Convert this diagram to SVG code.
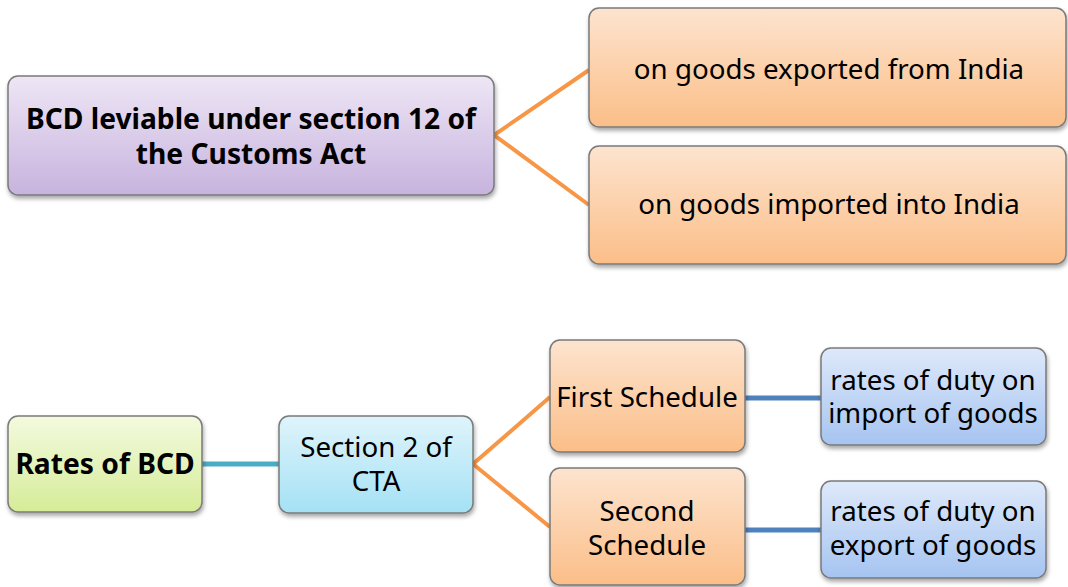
<svg xmlns="http://www.w3.org/2000/svg" width="1068" height="587" viewBox="0 0 1068 587">
<defs>
<linearGradient id="gP" x1="0" y1="0" x2="0" y2="1"><stop offset="0" stop-color="#EEE6F5"/><stop offset="1" stop-color="#C7B3DE"/></linearGradient>
<linearGradient id="gO" x1="0" y1="0" x2="0" y2="1"><stop offset="0" stop-color="#FDE4CF"/><stop offset="1" stop-color="#FBBE88"/></linearGradient>
<linearGradient id="gG" x1="0" y1="0" x2="0" y2="1"><stop offset="0" stop-color="#F3FADF"/><stop offset="1" stop-color="#D6EC98"/></linearGradient>
<linearGradient id="gC" x1="0" y1="0" x2="0" y2="1"><stop offset="0" stop-color="#DFF4FB"/><stop offset="1" stop-color="#A4E1F5"/></linearGradient>
<linearGradient id="gB" x1="0" y1="0" x2="0" y2="1"><stop offset="0" stop-color="#DEE9FA"/><stop offset="1" stop-color="#A6C4F1"/></linearGradient>
<filter id="sh" x="-10%" y="-10%" width="120%" height="130%"><feDropShadow dx="1" dy="3" stdDeviation="2" flood-color="#000" flood-opacity="0.35"/></filter>
</defs>
<style>
.box{stroke:#7A7A7A;stroke-width:1.5;filter:url(#sh)}
.t{font-family:"Noto Sans","Open Sans","DejaVu Sans",sans-serif;font-size:27.7px;fill:#000;text-anchor:middle}
.b{font-weight:bold;font-size:28.2px}
.co{stroke:#F79646;stroke-width:4;fill:none}
.cc{stroke:#4BACC6;stroke-width:5;fill:none}
.cb{stroke:#4F81BD;stroke-width:5;fill:none}
</style>
<rect width="1068" height="587" fill="#fff"/>
<g id="connectors">
<polyline class="co" points="589,70 494,135 589,205"/>
<line class="cc" x1="202" y1="464" x2="279" y2="464"/>
<polyline class="co" points="550,397 473,464 550,527"/>
<line class="cb" x1="745" y1="398" x2="821" y2="398"/>
<line class="cb" x1="745" y1="530" x2="821" y2="530"/>
</g>
<g id="n1"><rect class="box" x="8" y="76" width="486" height="119" rx="10" fill="url(#gP)"/>
<text class="t b" x="251" y="129">BCD leviable under section 12 of</text>
<text class="t b" x="251" y="164">the Customs Act</text></g>
<g id="n2"><rect class="box" x="589" y="8" width="477" height="119" rx="10" fill="url(#gO)"/>
<text class="t" x="829" y="79">on goods exported from India</text></g>
<g id="n3"><rect class="box" x="589" y="146" width="477" height="118" rx="10" fill="url(#gO)"/>
<text class="t" x="829" y="214">on goods imported into India</text></g>
<g id="n4"><rect class="box" x="8" y="416" width="194" height="96" rx="10" fill="url(#gG)"/>
<text class="t b" x="105" y="474">Rates of BCD</text></g>
<g id="n5"><rect class="box" x="279" y="416" width="194" height="97" rx="10" fill="url(#gC)"/>
<text class="t" x="376" y="457">Section 2 of</text>
<text class="t" x="376" y="491">CTA</text></g>
<g id="n6"><rect class="box" x="550" y="340" width="195" height="112" rx="10" fill="url(#gO)"/>
<text class="t" x="647" y="407">First Schedule</text></g>
<g id="n7"><rect class="box" x="550" y="468" width="195" height="117" rx="10" fill="url(#gO)"/>
<text class="t" x="647" y="521">Second</text>
<text class="t" x="647" y="555">Schedule</text></g>
<g id="n8"><rect class="box" x="821" y="348" width="225" height="97" rx="10" fill="url(#gB)"/>
<text class="t" x="933" y="390">rates of duty on</text>
<text class="t" x="933" y="423">import of goods</text></g>
<g id="n9"><rect class="box" x="821" y="481" width="225" height="97" rx="10" fill="url(#gB)"/>
<text class="t" x="933" y="521">rates of duty on</text>
<text class="t" x="933" y="555">export of goods</text></g>
</svg>
